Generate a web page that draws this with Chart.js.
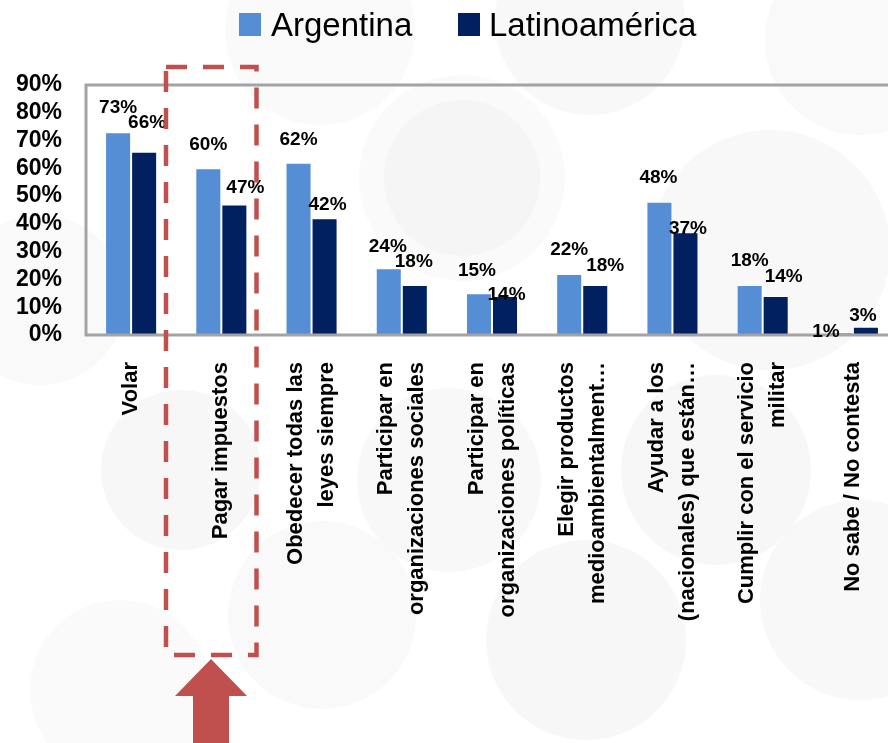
<!DOCTYPE html>
<html>
<head>
<meta charset="utf-8">
<script src="https://cdn.jsdelivr.net/npm/chart.js@4.4.0/dist/chart.umd.min.js"></script>
<style>
  html, body { margin: 0; padding: 0; background: #fff; overflow: hidden; }
  #wrap { position: relative; width: 898px; height: 743px; }
</style>
</head>
<body>
<div id="wrap"><canvas id="chart"></canvas></div>
<script>
// --- data ------------------------------------------------------------------
const categories = [
  'Volar',
  'Pagar impuestos',
  ['Obedecer todas las', 'leyes siempre'],
  ['Participar en', 'organizaciones sociales'],
  ['Participar en', 'organizaciones políticas'],
  ['Elegir productos', 'medioambientalment…'],
  ['Ayudar a los', '(nacionales) que están…'],
  ['Cumplir con el servicio', 'militar'],
  'No sabe / No contesta',
];
const seriesNames = ['Argentina', 'Latinoamérica'];
const argentina = [73, 60, 62, 24, 15, 22, 48, 18, 1];
const latinoamerica = [66, 47, 42, 18, 14, 18, 37, 14, 3];
const yMax = 90;
const yStep = 10;

// hand-placed data label nudges (dx, dy above bar top), as in the original
const argLabelShift = [[0, 24], [0, 23.5], [0, 23], [-1, 22], [-2, 23], [0, 24], [-1, 24], [0, 24], [-14, 0]];
const latLabelShift = [[3, 29], [11, 16.5], [3, 14], [-1, 23.5], [1.5, 1.7], [10, 19.5], [2.5, 3], [8, 19.5], [-3, 10.7]];

const FONT = '"Liberation Sans", Arial, sans-serif';
const BLUE = '#558ED5';
const NAVY = '#002060';
const RED = '#C0504D';

// faint decorative circles of the slide background
const bgCircles = [
  [320, 30, 95, '#fafafa'], [590, 20, 95, '#f8f8f8'], [860, 40, 95, '#f9f9f9'],
  [462, 178, 103, '#fafafa'], [462, 178, 78, '#f5f5f5'], [770, 250, 120, '#f8f8f8'],
  [40, 300, 85, '#f9f9f9'], [181, 470, 80, '#f7f7f7'], [449, 480, 92, '#f8f8f8'],
  [716, 470, 95, '#f7f7f7'], [322, 615, 94, '#f9f9f9'], [586, 640, 100, '#f7f7f7'],
  [860, 600, 100, '#f8f8f8'], [120, 690, 90, '#fafafa'],
];

const backdrop = {
  id: 'backdrop',
  beforeDraw(chart) {
    const ctx = chart.ctx;
    ctx.save();
    ctx.fillStyle = '#fff';
    ctx.fillRect(0, 0, chart.width, chart.height);
    bgCircles.forEach(([x, y, r, c]) => {
      ctx.beginPath();
      ctx.arc(x, y, r, 0, Math.PI * 2);
      ctx.fillStyle = c;
      ctx.fill();
    });
    ctx.restore();
  },
};

const decorations = {
  id: 'decorations',
  afterDatasetsDraw(chart) {
    const { ctx, chartArea: a } = chart;
    ctx.save();
    // plot frame
    ctx.strokeStyle = '#a3a3a3';
    ctx.lineWidth = 3;
    ctx.strokeRect(a.left, a.top, a.right - a.left, a.bottom - a.top);

    // data labels
    ctx.font = 'bold 19px ' + FONT;
    ctx.fillStyle = '#000';
    ctx.textAlign = 'center';
    ctx.textBaseline = 'middle';
    const shifts = [argLabelShift, latLabelShift];
    chart.data.datasets.forEach((ds, di) => {
      chart.getDatasetMeta(di).data.forEach((bar, i) => {
        const [dx, dy] = shifts[di][i];
        ctx.fillText(ds.data[i] + '%', bar.x + dx, bar.y - dy);
      });
    });

    // rotated category labels, centred on the tick
    const xs = chart.scales.x;
    ctx.font = 'bold 22px ' + FONT;
    ctx.textAlign = 'right';
    const lh = 31;
    chart.data.labels.forEach((lab, i) => {
      const lines = Array.isArray(lab) ? lab : [lab];
      ctx.save();
      ctx.translate(xs.getPixelForValue(i), a.bottom + 27);
      ctx.rotate(-Math.PI / 2);
      lines.forEach((t, j) => ctx.fillText(t, 0, (j - (lines.length - 1) / 2) * lh));
      ctx.restore();
    });

    // legend
    ctx.font = '33px ' + FONT;
    ctx.textAlign = 'left';
    ctx.textBaseline = 'alphabetic';
    const legendPos = [[239, 271], [458, 489]];
    chart.data.datasets.forEach((ds, di) => {
      const [bx, tx] = legendPos[di];
      ctx.fillStyle = ds.backgroundColor;
      ctx.fillRect(bx, 13, 22, 23);
      ctx.fillStyle = '#000';
      ctx.fillText(ds.label, tx, 36);
    });

    // highlight box and arrow
    ctx.strokeStyle = RED;
    ctx.lineWidth = 4.5;
    ctx.setLineDash([21, 16]);
    ctx.strokeRect(166, 67, 90.5, 588);
    ctx.setLineDash([]);
    ctx.fillStyle = RED;
    ctx.beginPath();
    ctx.moveTo(211, 659);
    ctx.lineTo(247, 696);
    ctx.lineTo(229, 696);
    ctx.lineTo(229, 750);
    ctx.lineTo(193, 750);
    ctx.lineTo(193, 696);
    ctx.lineTo(175, 696);
    ctx.closePath();
    ctx.fill();
    ctx.restore();
  },
};

new Chart(document.getElementById('chart'), {
  type: 'bar',
  data: {
    labels: categories,
    datasets: [
      {
        label: seriesNames[0],
        data: argentina,
        backgroundColor: BLUE,
        borderColor: 'rgba(255,255,255,0.75)',
        borderWidth: 1,
        categoryPercentage: 0.577,
        barPercentage: 1,
      },
      {
        label: seriesNames[1],
        data: latinoamerica,
        backgroundColor: NAVY,
        borderColor: 'rgba(255,255,255,0.75)',
        borderWidth: 1,
        categoryPercentage: 0.577,
        barPercentage: 1,
      },
    ],
  },
  options: {
    responsive: true,
    maintainAspectRatio: false,
    animation: false,
    layout: { padding: { top: 85, left: 0, right: 0, bottom: 0 } },
    plugins: { legend: { display: false }, tooltip: { enabled: false } },
    scales: {
      x: {
        grid: { display: false, drawTicks: false },
        border: { display: false },
        ticks: { display: false },
        afterFit: (s) => { s.height = 408; },
      },
      y: {
        min: 0,
        max: yMax,
        grid: { display: false, drawTicks: false },
        border: { display: false },
        ticks: {
          stepSize: yStep,
          autoSkip: false,
          padding: 24,
          color: '#000',
          font: { family: FONT, size: 23, weight: 'bold' },
          callback: (v) => v + '%',
        },
        afterFit: (s) => { s.width = 86; },
      },
    },
  },
  plugins: [backdrop, decorations],
});
</script>
</body>
</html>
